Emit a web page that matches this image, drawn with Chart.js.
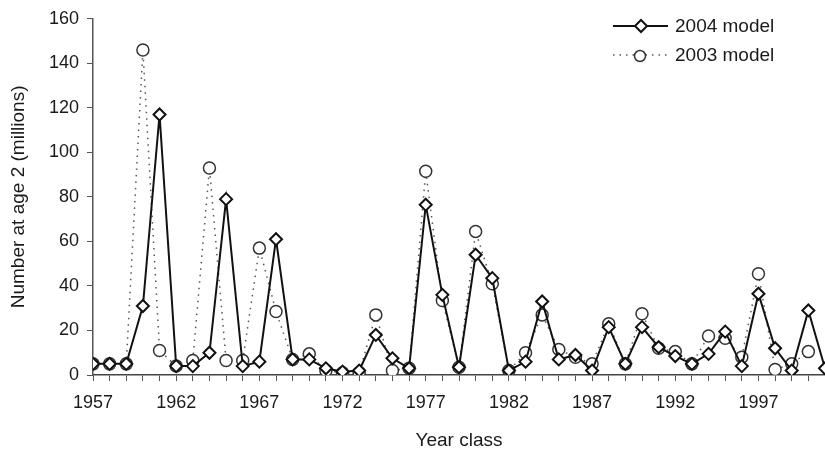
<!DOCTYPE html>
<html>
<head>
<meta charset="utf-8">
<title>Number at age 2 by year class</title>
<script src="https://cdn.jsdelivr.net/npm/chart.js@4.4.1/dist/chart.umd.min.js"></script>
<style>
  html, body { margin: 0; padding: 0; background: #fff; }
  #wrap { width: 825px; height: 453px; position: relative; }
</style>
</head>
<body>
<div id="wrap"><canvas id="recruitChart"></canvas></div>
<script>
// year classes 1957..2001
const years = [];
for (let y = 1957; y <= 2001; y++) years.push(y);

// Number at age 2 (millions)
const model2004 = [
  5, 5, 5, 31, 117, 4, 4, 10, 79, 4,
  6, 61, 7, 7, 3, 1.5, 2, 18, 7.5, 3,
  76.5, 36, 3.5, 54, 43.5, 2, 6, 33, 7, 9,
  2, 21.5, 5, 21.5, 12.5, 8.5, 5, 9.5, 19.5, 4,
  36.5, 12, 2, 29, 3
];
const model2003 = [
  5, 5, 5, 146, 11, 4, 6.5, 93, 6.5, 6.5,
  57, 28.5, 7, 9.5, 2, 1, 1, 27, 2, 3,
  91.5, 33.5, 3.5, 64.5, 41, 2, 10, 27, 11.5, 8,
  5, 23, 5, 27.5, 12, 10.5, 5, 17.5, 16.5, 8,
  45.5, 2.5, 5, 10.5, null
];

const labelYears = [1957, 1962, 1967, 1972, 1977, 1982, 1987, 1992, 1997];

const FONT = 'Arial, "Liberation Sans", sans-serif';
const INK = '#1a1a1a';

// legend with a line through the marker, like the original
const legendPlugin = {
  id: 'lineLegend',
  afterDraw(chart) {
    const ctx = chart.ctx;
    const rows = [
      { text: '2004 model', y: 26, dash: [], color: '#111', width: 2, marker: 'diamond' },
      { text: '2003 model', y: 55, dash: [1.5, 5], color: '#555', width: 1.5, marker: 'circle' }
    ];
    ctx.save();
    rows.forEach(r => {
      ctx.beginPath();
      ctx.setLineDash(r.dash);
      ctx.strokeStyle = r.color;
      ctx.lineWidth = r.width;
      ctx.moveTo(613, r.y);
      ctx.lineTo(668, r.y);
      ctx.stroke();
      ctx.setLineDash([]);
      ctx.beginPath();
      if (r.marker === 'diamond') {
        ctx.moveTo(641, r.y - 6);
        ctx.lineTo(647, r.y);
        ctx.lineTo(641, r.y + 6);
        ctx.lineTo(635, r.y);
        ctx.closePath();
        ctx.lineWidth = 2;
        ctx.strokeStyle = '#111';
      } else {
        ctx.arc(640, r.y + 1, 5.5, 0, Math.PI * 2);
        ctx.lineWidth = 1.5;
        ctx.strokeStyle = '#333';
      }
      ctx.fillStyle = '#fff';
      ctx.fill();
      ctx.stroke();
      ctx.fillStyle = INK;
      ctx.font = '19px ' + FONT;
      ctx.textBaseline = 'middle';
      ctx.textAlign = 'left';
      ctx.fillText(r.text, 675, r.y + 1);
    });
    ctx.restore();
  }
};

const ctx = document.getElementById('recruitChart').getContext('2d');
new Chart(ctx, {
  type: 'line',
  data: {
    datasets: [
      {
        label: '2004 model',
        data: years.map((y, i) => ({ x: y, y: model2004[i] })),
        borderColor: '#111',
        borderWidth: 2,
        pointStyle: 'rectRot',
        pointRadius: 6,
        pointBorderWidth: 2,
        pointBorderColor: '#111',
        pointBackgroundColor: '#fff',
        tension: 0
      },
      {
        label: '2003 model',
        data: years.map((y, i) => ({ x: y, y: model2003[i] })),
        borderColor: '#555',
        borderWidth: 1.5,
        borderDash: [1.5, 5],
        pointStyle: 'circle',
        pointRadius: 6,
        pointBorderWidth: 1.5,
        pointBorderColor: '#333',
        pointBackgroundColor: '#fff',
        spanGaps: false,
        tension: 0
      }
    ]
  },
  options: {
    responsive: true,
    maintainAspectRatio: false,
    animation: false,
    // no auto padding: the last year sits on the right edge and gets cut, as in the original
    layout: { autoPadding: false, padding: { top: 16, right: 0, left: 0, bottom: 0 } },
    plugins: {
      legend: { display: false },
      tooltip: { enabled: false }
    },
    scales: {
      x: {
        type: 'linear',
        min: 1957,
        max: 2001,
        afterFit: s => { s.height = 78; },
        afterBuildTicks: s => { s.ticks = years.map(v => ({ value: v })); },
        ticks: {
          autoSkip: false,
          maxRotation: 0,
          // padding 0 so no room is kept at the right edge; the tall line height pushes labels down
          padding: 0,
          color: INK,
          font: { family: FONT, size: 18, lineHeight: 2.5 },
          callback: v => labelYears.includes(v) ? String(v) : ''
        },
        grid: { drawOnChartArea: false, tickLength: 6, color: '#555' },
        border: { color: '#444', width: 1.5 },
        title: {
          display: true,
          text: 'Year class',
          color: INK,
          font: { family: FONT, size: 19 },
          padding: { top: 0, bottom: 1 }
        }
      },
      y: {
        min: 0,
        max: 160,
        afterFit: s => { s.width = 93; },
        ticks: {
          stepSize: 20,
          padding: 8,
          color: INK,
          font: { family: FONT, size: 18 }
        },
        grid: { drawOnChartArea: false, tickLength: 6, color: '#555' },
        border: { color: '#555', width: 1.5 },
        title: {
          display: true,
          text: 'Number at age 2 (millions)',
          color: INK,
          font: { family: FONT, size: 19 },
          padding: { top: 7, bottom: 0 }
        }
      }
    }
  },
  plugins: [legendPlugin]
});
</script>
</body>
</html>
